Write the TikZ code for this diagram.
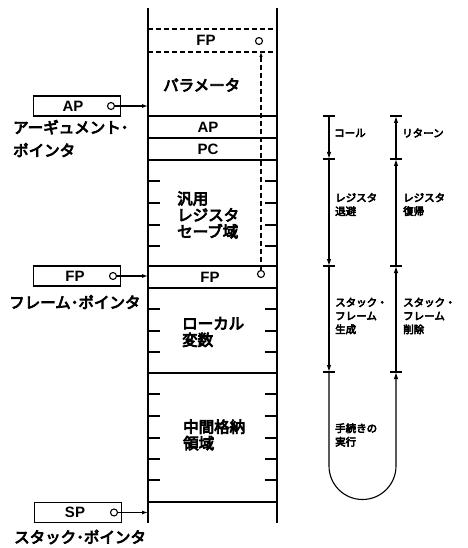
\documentclass[tikz,border=0pt]{standalone}
\usepackage{fontspec}
\setmainfont{Noto Sans CJK JP}[FakeBold=5]
\newfontfamily\lat{Liberation Sans}
\usetikzlibrary{arrows.meta}
\tikzset{
  wall/.style={line width=1.7pt},
  rowline/.style={line width=1.2pt},
  dashrow/.style={line width=1.2pt, dash pattern=on 5pt off 3pt},
  tick/.style={line width=1.2pt},
  reg/.style={font=\lat\bfseries\fontsize{15}{15}\selectfont, inner sep=0pt},
  big/.style={font=\fontsize{15.5}{16.5}\selectfont, inner sep=0pt, align=left, anchor=west},
  lab/.style={font=\fontsize{15.5}{23}\selectfont, inner sep=0pt, align=left, anchor=west},
  small/.style={font=\fontsize{10.5}{13.5}\selectfont, inner sep=0pt, align=left, anchor=west},
  pbox/.style={draw, line width=1.4pt, minimum width=87pt, minimum height=20pt, inner sep=0pt},
  ring/.style={draw, circle, line width=1.1pt, minimum size=7pt, inner sep=0pt, fill=white},
  ptr/.style={line width=1.1pt, -{Latex[length=6pt,width=4pt]}},
  flow/.style={line width=1.1pt, -{Latex[length=7pt,width=4.5pt]}},
}
\begin{document}
\begin{tikzpicture}[x=1pt,y=-1pt]
\useasboundingbox (0,0) rectangle (467,548);
% stack walls
\coordinate (wLt) at (148,8);
\coordinate (wLb) at (148,523);
\coordinate (wRt) at (277,8);
\coordinate (wRb) at (277,523);
\draw[wall] (wLt) -- (wLb);
\draw[wall] (wRt) -- (wRb);
% dashed rows
\draw[dashrow] (148,29) -- (277,29);
\draw[dashrow] (148,52) -- (277,52);
% solid rows
\foreach \y in {116,138,160,266,288,373,502}
  \draw[rowline] (148,\y) -- (277,\y);
% ticks
\foreach \y in {181,203,225,246,309,331,352,394,416,438,459,480}{
  \draw[tick] (148,\y) -- (160,\y);
  \draw[tick] (265,\y) -- (277,\y);
}
% stack texts
\node[reg] (fptop) at (206,40) {FP};
\node[ring] (ctop) at (259,41) {};
\node[big] (param) at (163,85) {パラメータ};
\node[reg] (aprow) at (208,127) {AP};
\node[reg] (pcrow) at (208,149) {PC};
\node[big] (gen) at (177,215) {汎用\\レジスタ\\セーブ域};
\node[reg] (fprow) at (210,277) {FP};
\node[ring] (cfp) at (261,274) {};
\node[big] (local) at (182,332) {ローカル\\変数};
\node[big] (mid) at (183,435) {中間格納\\領域};
% dashed link FP -> saved FP
\coordinate (dtop) at (261,52);
\draw[line width=1.1pt, dash pattern=on 5pt off 3pt, -{Latex[length=5pt,width=3.5pt]}] (cfp.north) -- (dtop);
% pointer boxes
\node[pbox] (apbox) at (77,106) {};
\node[reg] (aptxt) at (73,106) {AP};
\node[ring] (apc) at (111,106) {};
\coordinate (apt) at (148,106);
\draw[ptr] (apc.east) -- (apt);
\node[lab] (aplab) at (13,138.5) {アーギュメント･\\ポインタ};

\node[pbox] (fpbox) at (77,276) {};
\node[reg] (fptxt) at (75,276) {FP};
\node[ring] (fpc) at (113,276) {};
\coordinate (fpt) at (148,276);
\draw[ptr] (fpc.east) -- (fpt);
\node[lab] (fplab) at (9,302) {フレーム･ポインタ};

\node[pbox] (spbox) at (78,512.5) {};
\node[reg] (sptxt) at (75,512.5) {SP};
\node[ring] (spc) at (114,512.5) {};
\coordinate (spt) at (148,512.5);
\draw[ptr] (spc.east) -- (spt);
\node[lab] (splab) at (14,537) {スタック･ポインタ};
% flow columns
\coordinate (L1) at (329,116);
\coordinate (L2) at (329,159);
\coordinate (L3) at (329,266);
\coordinate (L4) at (329,372);
\coordinate (R1) at (396,116);
\coordinate (R2) at (396,159);
\coordinate (R3) at (396,266);
\coordinate (R4) at (396,372);
\foreach \p in {L1,L2,L3,L4,R1,R2,R3,R4}
  \draw[tick] ([xshift=-6pt]\p) -- ([xshift=6pt]\p);
\draw[flow] (L1) -- (L2);
\draw[flow] (L2) -- (L3);
\draw[flow] (L3) -- (L4);
\draw[flow] (R2) -- (R1);
\draw[flow] (R3) -- (R2);
\draw[flow] (R4) -- (R3);
\draw[flow] (L4) -- (329,466) arc (180:0:33.5) -- (R4);
% flow labels
\node[small] (call) at (334,133) {コール};
\node[small] (ret) at (402,133) {リターン};
\node[small] (save) at (335,204.5) {レジスタ\\退避};
\node[small] (rest) at (403,204.5) {レジスタ\\復帰};
\node[small] (mk) at (335,316) {スタック・\\フレーム\\生成};
\node[small] (del) at (403,316) {スタック・\\フレーム\\削除};
\node[small] (exe) at (335,435) {手続きの\\実行};
\end{tikzpicture}
\end{document}
